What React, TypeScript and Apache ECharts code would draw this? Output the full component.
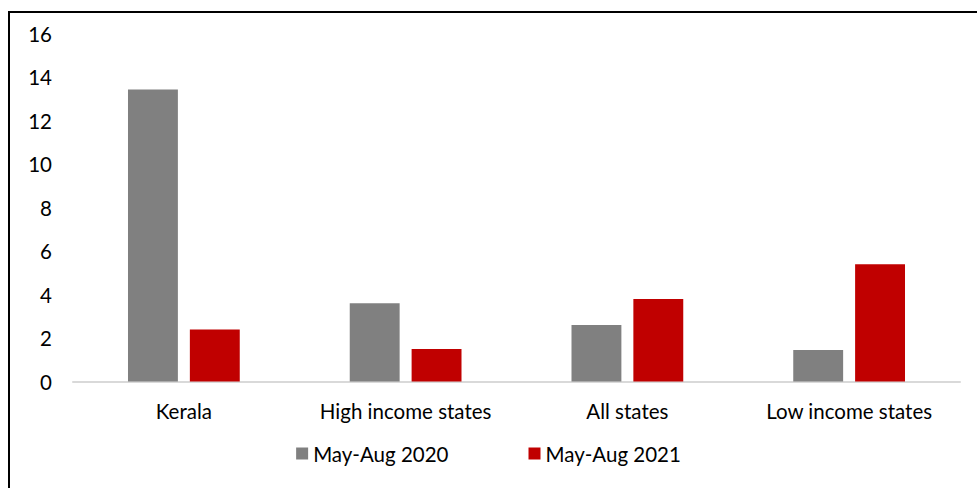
import React, { useEffect, useRef } from "react";
import * as echarts from "echarts";

const categories = ["Kerala", "High income states", "All states", "Low income states"];
const seriesNames = ["May-Aug 2020", "May-Aug 2021"];
const values2020 = [13.45, 3.6, 2.6, 1.45];
const values2021 = [2.4, 1.5, 3.8, 5.4];
const colors = ["#808080", "#c00000"];

export default function App() {
  const ref = useRef<HTMLDivElement>(null);
  useEffect(() => {
    if (!ref.current) return;
    const chart = echarts.init(ref.current, undefined, { renderer: "svg" });
    const font = "Lato";
    const fs = 20.5;
    chart.setOption({
      animation: false,
      backgroundColor: "#ffffff",
      textStyle: { fontFamily: font },
      graphic: [
        {
          type: "rect",
          shape: { x: 9, y: 12, width: 1200, height: 1000 },
          style: { fill: "none", stroke: "#000000", lineWidth: 2 },
          silent: true,
        },
      ],
      grid: { left: 73, right: 17, top: 34, bottom: 106.5 },
      legend: {
        data: seriesNames,
        top: 438,
        left: "center",
        itemWidth: 12,
        itemHeight: 12,
        itemGap: 80,
        icon: "rect",
        textStyle: { fontFamily: font, fontSize: fs, color: "#000000" },
      },
      xAxis: {
        type: "category",
        data: categories,
        axisLine: { show: true, lineStyle: { color: "#d9d9d9", width: 2 } },
        axisTick: { show: false },
        axisLabel: {
          fontFamily: font,
          fontSize: fs,
          color: "#000000",
          margin: 19,
          interval: 0,
          hideOverlap: false,
        },
      },
      yAxis: {
        type: "value",
        min: 0,
        max: 16,
        interval: 2,
        axisLine: { show: false },
        axisTick: { show: false },
        splitLine: { show: false },
        axisLabel: { fontFamily: font, fontSize: fs, color: "#000000", margin: 21 },
      },
      series: [
        {
          name: seriesNames[0],
          type: "bar",
          data: values2020,
          barWidth: "22.5%",
          barGap: "24%",
          itemStyle: { color: colors[0] },
        },
        {
          name: seriesNames[1],
          type: "bar",
          data: values2021,
          barWidth: "22.5%",
          barGap: "24%",
          itemStyle: { color: colors[1] },
        },
      ],
    });
    return () => chart.dispose();
  }, []);
  return (
    <div
      ref={ref}
      style={{ position: "fixed", left: 0, top: 0, width: 977, height: 488 }}
    />
  );
}
